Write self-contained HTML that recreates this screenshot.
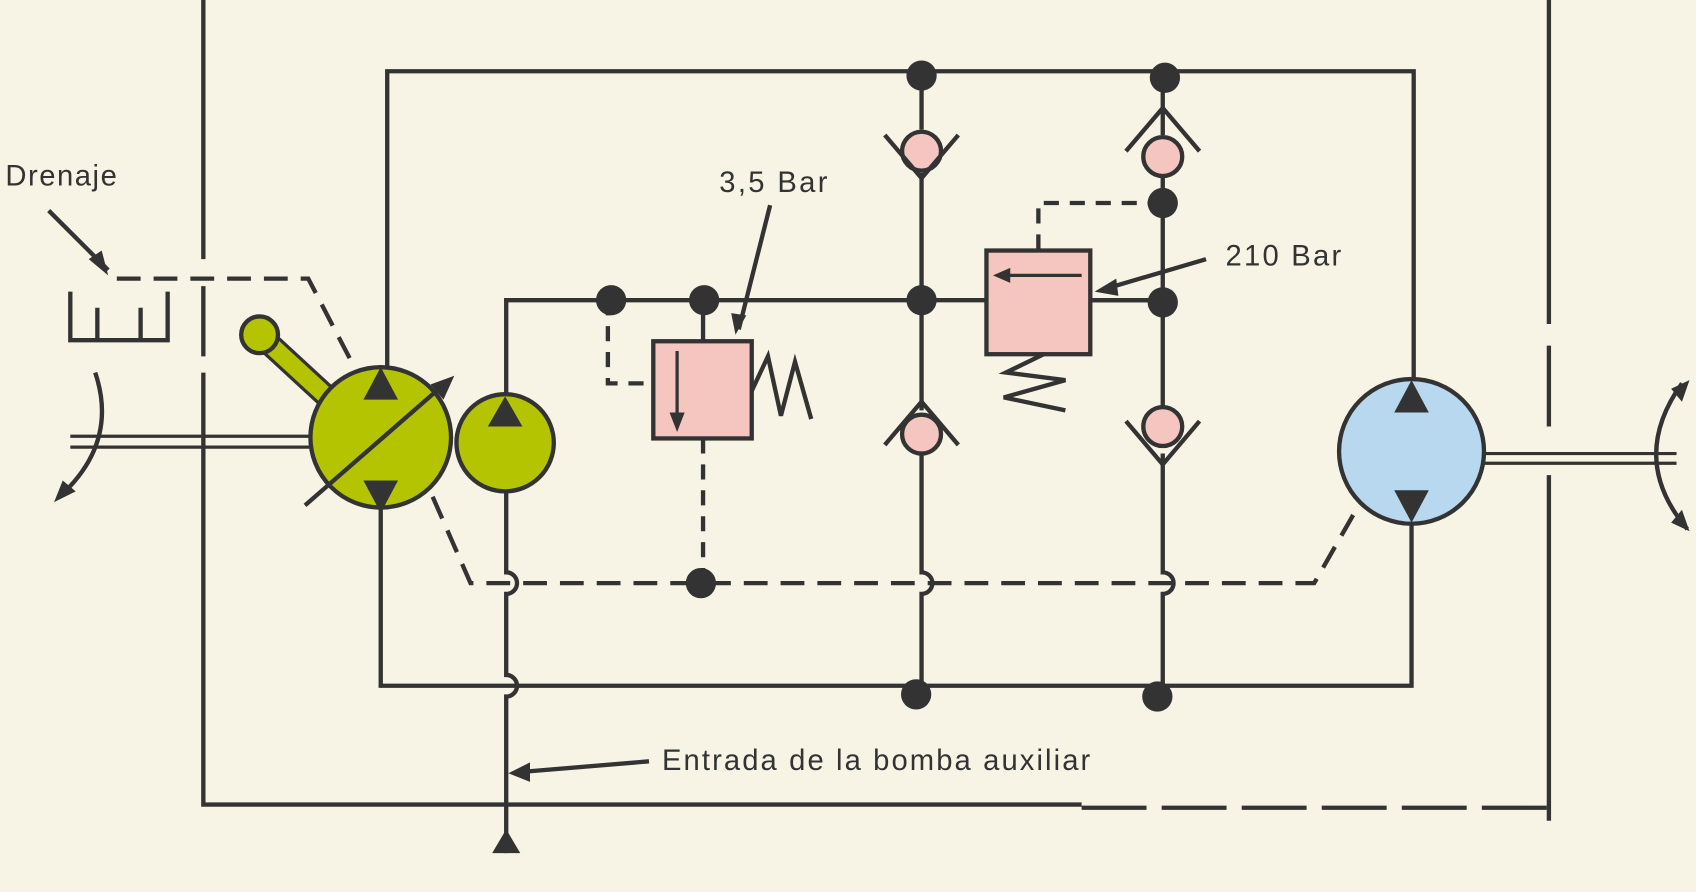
<!DOCTYPE html>
<html><head><meta charset="utf-8"><style>
html,body{margin:0;padding:0;background:#f7f4e6;}
svg{display:block;}
text{font-family:"Liberation Sans",sans-serif;fill:#333;}
</style></head><body>
<svg width="1696" height="892" viewBox="0 0 1568 826" preserveAspectRatio="none">
<rect x="0" y="0" width="1568" height="826" fill="#f7f4e6"/>
<g stroke="#333" stroke-width="4" fill="none">
 <path d="M188 0 V240 M188 265 V330 M188 345 V745 H1000"/>
 <path d="M1000 748 H1430" stroke-dasharray="60 14"/>
 <path d="M1432 0 V300 M1432 320 V395 M1432 440 V760"/>
 <path d="M358 345 V66 H1307 V350"/>
 <path d="M352 470 V635 H1305 V485"/>
 <path d="M468 370 V278 H1075"/>
 <path d="M468 455 V530 a10 10 0 0 1 0 20 V625 a10 10 0 0 1 0 20 V790"/>
 <path d="M852 70 V120 M852 160 V380 M852 420 V530 a10 10 0 0 1 0 20 V643"/>
 <path d="M1075 72 V125 M1075 160 V380 M1075 420 V530 a10 10 0 0 1 0 20 V645"/>
 <path d="M1008 278 H1075" />
 <path d="M400 460 L435 540 H1215 L1255 470" stroke-dasharray="22 12"/>
 <path d="M108 258 H285 L325 335" stroke-dasharray="22 12"/>
 <path d="M562 278 V355 H604" stroke-dasharray="14 10"/>
 <path d="M650 406 V540" stroke-dasharray="14 10"/>
 <path d="M650 278 V316"/>
 <path d="M1075 188 H960 V232" stroke-dasharray="14 10"/>
 <path d="M65 270 V315 H155 V270 M90 285 V315 M130 285 V315"/>
 <path d="M65 404 H292 M65 414 H292" stroke-width="3"/>
 <path d="M1370 420 H1550 M1370 429 H1550" stroke-width="3"/>
 <path d="M88 345 Q110 410 55 460"/>
 <path d="M1555 355 Q1505 425 1560 490"/>
 <path d="M45 195 L100 250"/>
 <path d="M712 190 L683 305"/>
 <path d="M1115 240 L1020 268"/>
 <path d="M600 705 L480 715"/>
</g>
<g fill="#333">
 <polygon points="100,255 82,240 94,232"/>
 <polygon points="50,465 58,445 70,455"/>
 <polygon points="1562,352 1545,360 1555,372"/>
 <polygon points="1562,492 1545,484 1555,472"/>
 <polygon points="1012,270 1032,258 1034,274"/>
 <polygon points="470,716 490,706 490,724"/>
 <polygon points="680,310 676,290 690,292"/>
 <polygon points="468,768 455,790 481,790"/>
</g>
<line x1="240" y1="310" x2="305" y2="370" stroke="#333" stroke-width="22" stroke-linecap="round"/>
<line x1="240" y1="310" x2="305" y2="370" stroke="#b5c400" stroke-width="16" stroke-linecap="round"/>
<circle cx="240" cy="310" r="17" fill="#b5c400" stroke="#333" stroke-width="4"/>
<circle cx="352" cy="405" r="65" fill="#b5c400" stroke="#333" stroke-width="4"/>
<line x1="282" y1="468" x2="415" y2="352" stroke="#333" stroke-width="4"/>
<polygon points="420,348 398,356 410,370" fill="#333"/>
<polygon points="352,340 336,370 368,370" fill="#333"/>
<polygon points="352,475 336,445 368,445" fill="#333"/>
<circle cx="467" cy="410" r="45" fill="#b5c400" stroke="#333" stroke-width="4"/>
<polygon points="467,367 451,395 483,395" fill="#333"/>
<circle cx="1305" cy="418" r="67" fill="#b8d8f0" stroke="#333" stroke-width="4"/>
<polygon points="1305,352 1289,382 1321,382" fill="#333"/>
<polygon points="1305,484 1289,454 1321,454" fill="#333"/>
<rect x="604" y="316" width="91" height="90" fill="#f5c6c0" stroke="#333" stroke-width="4"/>
<path d="M626 325 V395" stroke="#333" stroke-width="3"/><polygon points="626,400 619,382 633,382" fill="#333"/>
<path d="M695 362 L710 330 L722 385 L735 335 L750 388" stroke="#333" stroke-width="4" fill="none"/>
<rect x="912" y="232" width="96" height="96" fill="#f5c6c0" stroke="#333" stroke-width="4"/>
<path d="M1000 255 H925" stroke="#333" stroke-width="3"/><polygon points="918,255 934,248 934,262" fill="#333"/>
<path d="M965 328 L930 345 L985 352 L928 368 L985 380" stroke="#333" stroke-width="4" fill="none"/>
<g stroke="#333" stroke-width="4">
 <circle cx="852" cy="140" r="18" fill="#f5c6c0"/><path d="M818 125 L852 165 L886 125" fill="none"/>
 <circle cx="852" cy="402" r="18" fill="#f5c6c0"/><path d="M818 412 L852 372 L886 412" fill="none"/>
 <circle cx="1075" cy="145" r="18" fill="#f5c6c0"/><path d="M1041 140 L1075 100 L1109 140" fill="none"/>
 <circle cx="1075" cy="395" r="18" fill="#f5c6c0"/><path d="M1041 390 L1075 430 L1109 390" fill="none"/>
</g>
<g fill="#333">
 <circle cx="852" cy="70" r="14"/><circle cx="1077" cy="72" r="14"/>
 <circle cx="565" cy="278" r="14"/><circle cx="651" cy="278" r="14"/>
 <circle cx="852" cy="278" r="14"/><circle cx="1075" cy="280" r="14"/>
 <circle cx="1075" cy="188" r="14"/><circle cx="648" cy="540" r="14"/>
 <circle cx="847" cy="643" r="14"/><circle cx="1070" cy="645" r="14"/>
</g>
<text x="5" y="172" font-size="27" textLength="103">Drenaje</text>
<text x="665" y="178" font-size="27" textLength="100">3,5 Bar</text>
<text x="1133" y="246" font-size="27" textLength="107">210 Bar</text>
<text x="612" y="713" font-size="27" textLength="396">Entrada de la bomba auxiliar</text>
</svg>
</body></html>
